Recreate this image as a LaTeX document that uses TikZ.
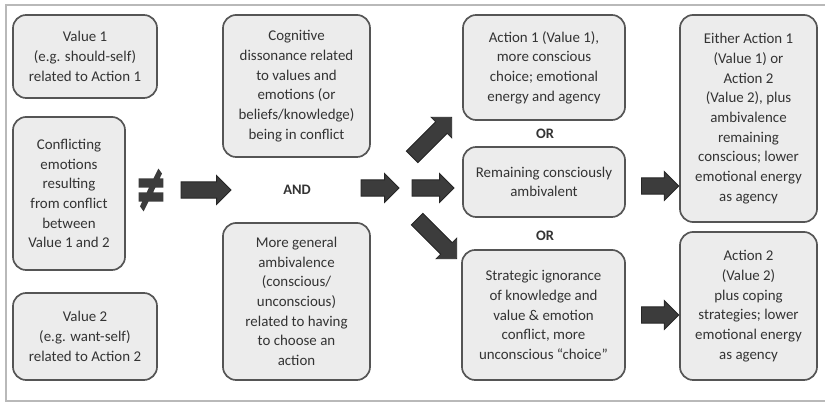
\documentclass[tikz,border=0pt]{standalone}
\usepackage{fontspec}
\usepackage{graphicx}
\setmainfont{Carlito}
\newfontfamily\symfont[FakeBold=3]{DejaVu Sans}
\usetikzlibrary{shapes.arrows}
\definecolor{boxgray}{RGB}{236,236,236}
\definecolor{edgegray}{RGB}{85,85,85}
\definecolor{arrowgray}{RGB}{60,60,60}

\begin{document}
\begin{tikzpicture}[x=0.025cm, y=-0.025cm,
    stage/.style={draw=edgegray, fill=boxgray, line width=1.2pt, rounded corners=0.33cm,
      align=center, inner sep=0pt, text=black!80,
      font=\fontsize{10.6}{14}\selectfont},
    blockarrow/.style={single arrow, draw=black!85, fill=arrowgray, line width=0.6pt,
      inner sep=5.5pt, single arrow head extend=4.5pt, single arrow head indent=0pt},
    joiner/.style={font=\fontsize{10.3}{12}\selectfont\bfseries, text=black!80}]
      \useasboundingbox (0,0) rectangle (825,405);
      % frame
      \draw[gray!55, line width=1.5pt] (825,5) -- (6,5) -- (6,401) -- (825,401);

      % values in conflict
      \node[stage, minimum width=3.6cm, minimum height=2.075cm] (val1) at (85,56.5)
        {Value 1\\(e.g. should-self)\\related to Action 1};
      \node[stage, minimum width=2.8cm, minimum height=3.825cm] (emo) at (69,193.5)
        {Conflicting\\emotions\\resulting\\from conflict\\between\\Value 1 and 2};
      \node[stage, minimum width=3.6cm, minimum height=2.175cm] (val2) at (85,336.5)
        {Value 2\\(e.g. want-self)\\related to Action 2};
      \node[text=arrowgray, inner sep=0pt, font=\symfont\bfseries\fontsize{36}{36}\selectfont] (neq) at (151,190)
        {\scalebox{0.75}[1.25]{≠}};

      % dissonance and ambivalence
      \node[stage, minimum width=3.675cm, minimum height=3.55cm] (cogn) at (296.5,86)
        {Cognitive\\dissonance related\\to values and\\emotions (or\\beliefs/knowledge)\\being in conflict};
      \node[joiner] (and) at (297,190) {AND};
      \node[stage, minimum width=3.675cm, minimum height=3.925cm] (ambi) at (296.5,301.5)
        {More general\\ambivalence\\(conscious/\\unconscious)\\related to having\\to choose an\\action};

      % outcomes
      \node[stage, minimum width=4.05cm, minimum height=2.625cm] (act1) at (544,67.5)
        {Action 1 (Value 1),\\more conscious\\choice; emotional\\energy and agency};
      \node[joiner] (or1) at (545,134) {OR};
      \node[stage, minimum width=4.05cm, minimum height=1.75cm] (remain) at (544,182)
        {Remaining consciously\\ambivalent};
      \node[joiner] (or2) at (545,236) {OR};
      \node[stage, minimum width=4.075cm, minimum height=3.25cm] (ignore) at (543.5,315)
        {Strategic ignorance\\of knowledge and\\value \& emotion\\conflict, more\\unconscious “choice”};

      % results
      \node[stage, minimum width=3.425cm, minimum height=5.175cm] (either) at (748.5,118.5)
        {Either Action 1\\(Value 1) or\\Action 2\\(Value 2), plus\\ambivalence\\remaining\\conscious; lower\\emotional energy\\as agency};
      \node[stage, minimum width=3.425cm, minimum height=3.7cm] (act2) at (748.5,306)
        {Action 2\\(Value 2)\\plus coping\\strategies; lower\\emotional energy\\as agency};

      % block arrows
      \node[blockarrow, minimum height=1.25cm] (ar1) at (202,190) {};
      \node[blockarrow, minimum height=0.95cm] (ar2) at (376,188) {};
      \node[blockarrow, minimum height=1.4cm, rotate=45] (arup) at (429,140) {};
      \node[blockarrow, minimum height=1.05cm] (armid) at (429,188) {};
      \node[blockarrow, minimum height=1.4cm, rotate=-45] (ardown) at (434,236) {};
      \node[blockarrow, minimum height=0.93cm] (arhi) at (656,186) {};
      \node[blockarrow, minimum height=0.93cm] (arlo) at (656,315) {};
    \end{tikzpicture}
\end{document}
